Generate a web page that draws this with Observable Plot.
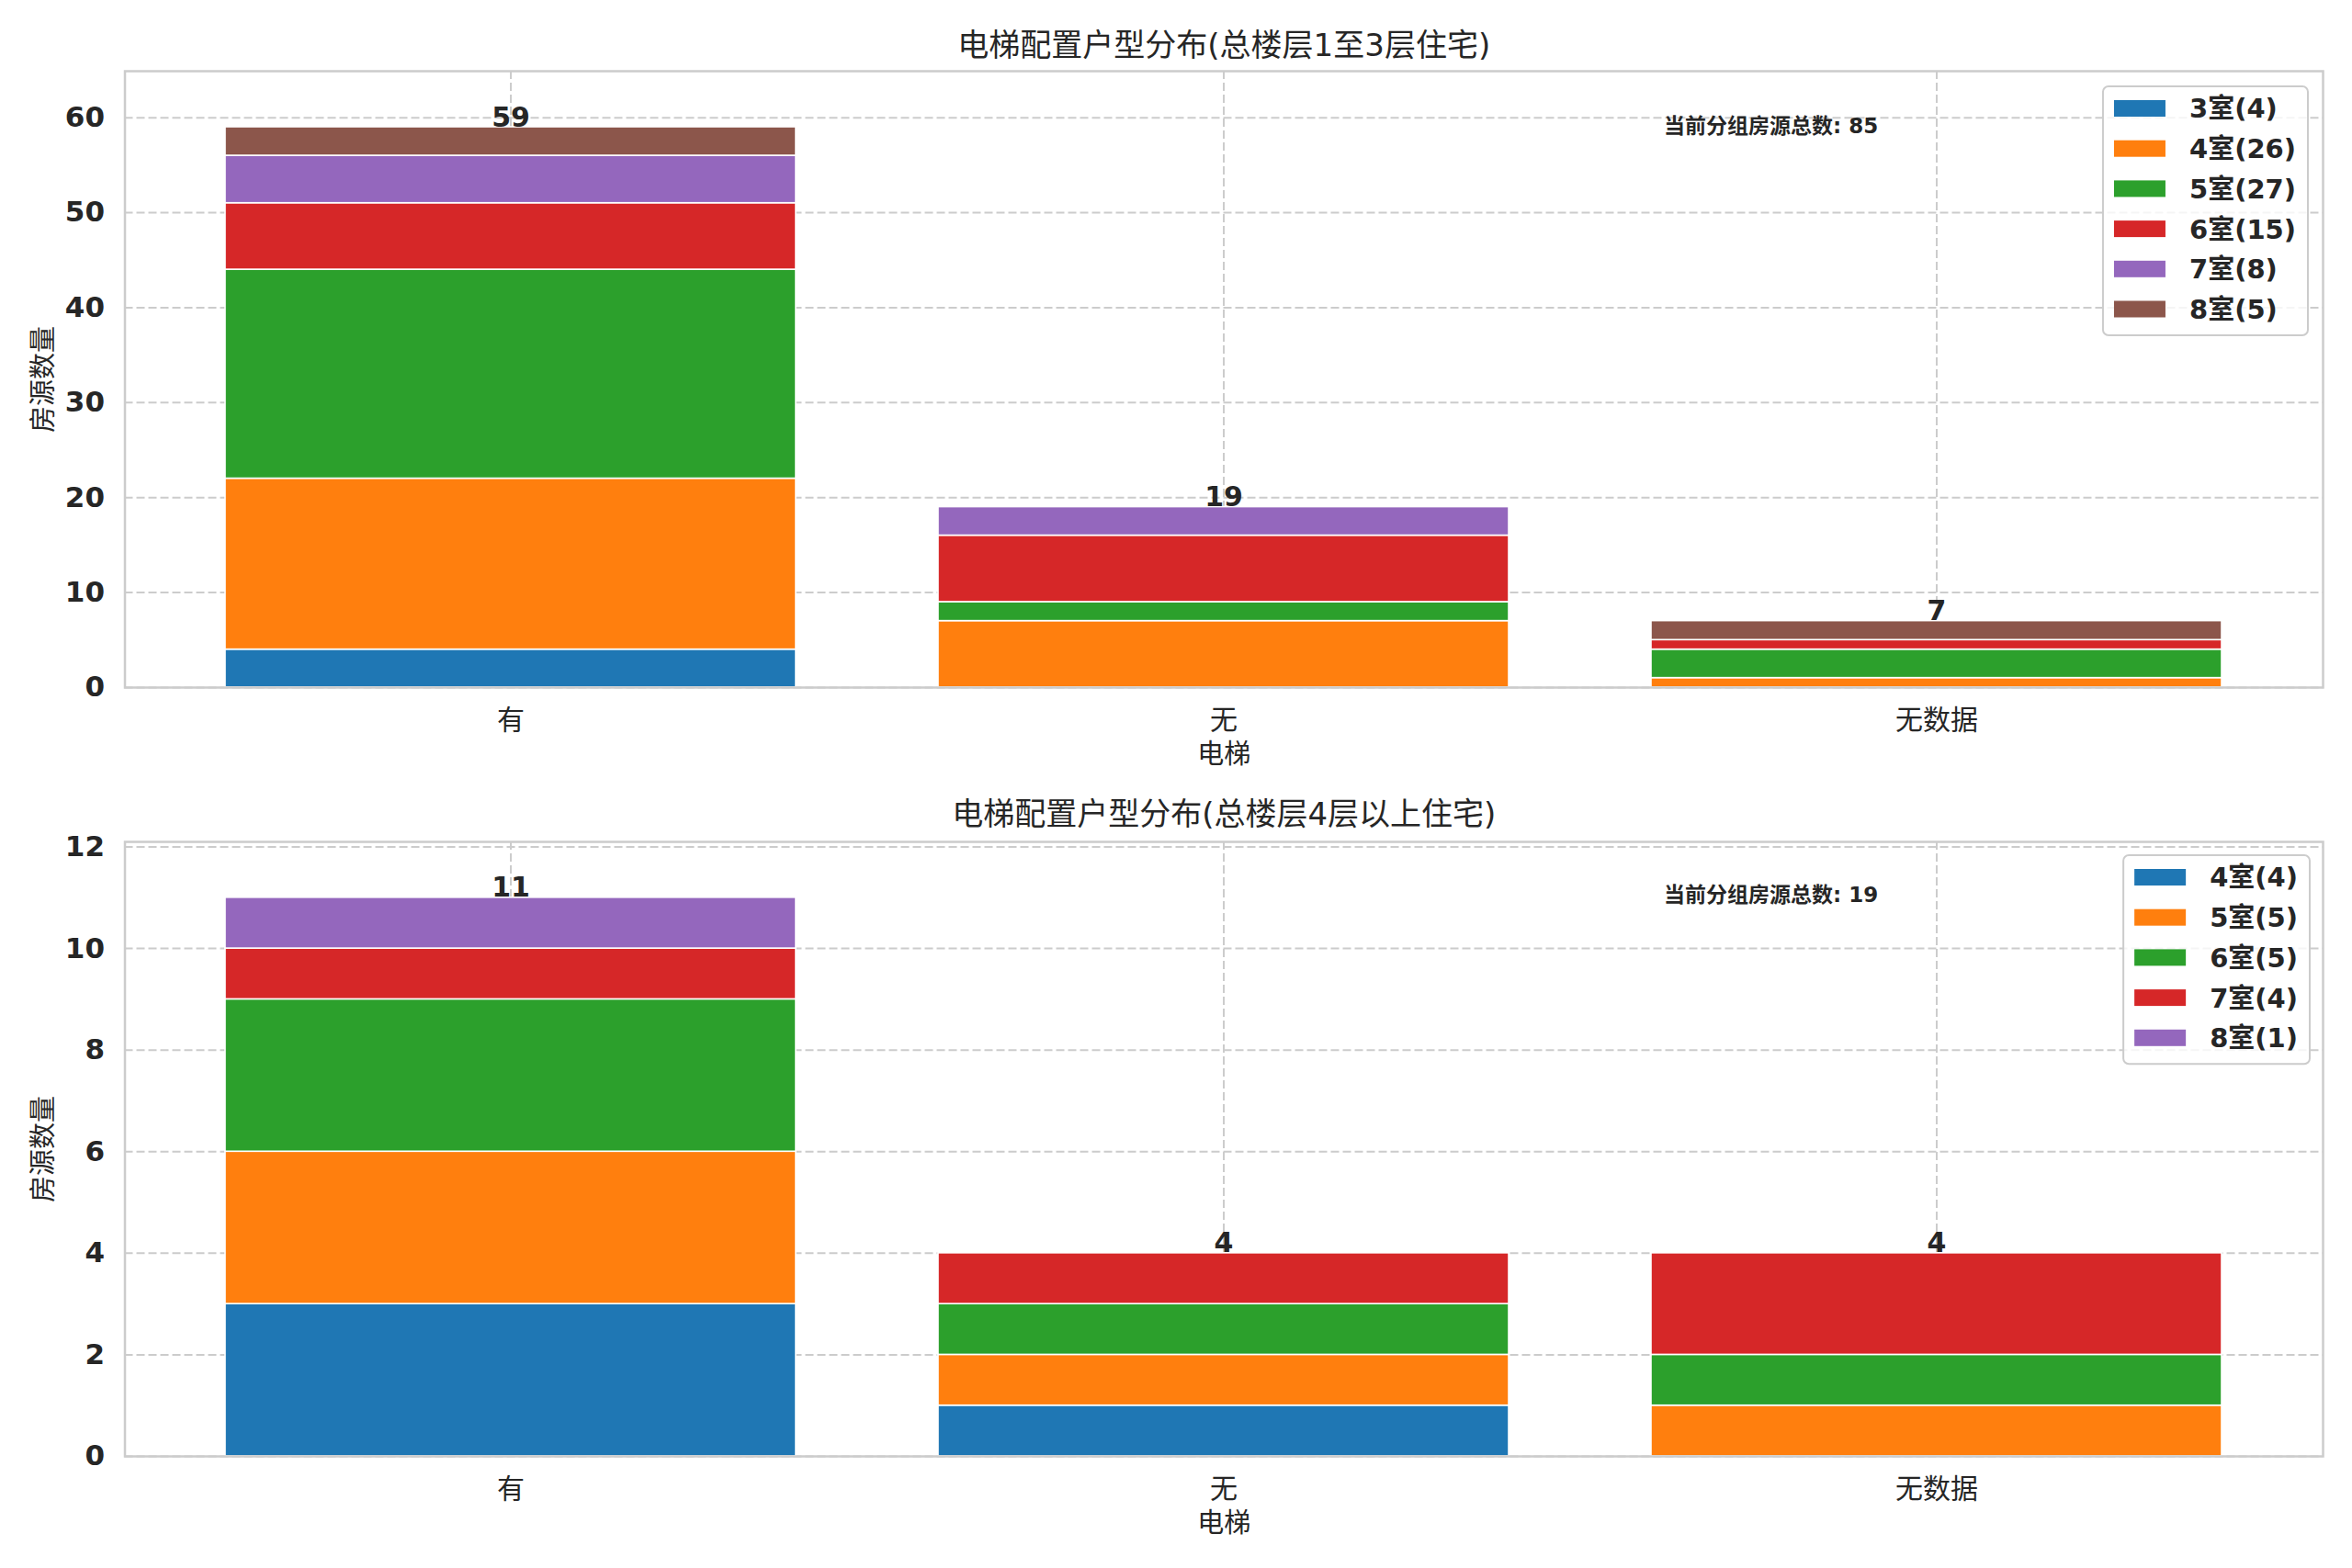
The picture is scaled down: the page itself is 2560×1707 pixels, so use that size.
<!DOCTYPE html>
<html>
<head>
<meta charset="utf-8">
<script src="https://cdn.jsdelivr.net/npm/d3@7"></script>
<script src="https://cdn.jsdelivr.net/npm/@observablehq/plot@0.6"></script>
<style>
html, body { margin: 0; padding: 0; background: #ffffff; }
#chart { width: 2560px; height: 1707px; overflow: hidden; }
#chart svg { display: block; }
</style>
</head>
<body>
<div id="chart"></div>
<script>
// ---- data ----
const categories = ["有", "无", "无数据"];
const lowRooms = ["3室", "4室", "5室", "6室", "7室", "8室"];
// counts per room type, aligned with categories
const lowCounts = [
  [4, 0, 0],
  [18, 7, 1],
  [22, 2, 3],
  [7, 7, 1],
  [5, 3, 0],
  [3, 0, 2]
];
const highRooms = ["4室", "5室", "6室", "7室", "8室"];
const highCounts = [
  [3, 1, 0],
  [3, 1, 1],
  [3, 1, 1],
  [1, 1, 2],
  [1, 0, 0]
];
const lowTicks = [0, 10, 20, 30, 40, 50, 60];
const highTicks = [0, 2, 4, 6, 8, 10, 12];
const titles = ["电梯配置户型分布(总楼层1至3层住宅)", "电梯配置户型分布(总楼层4层以上住宅)"];
const xLabel = "电梯";
const yLabel = "房源数量";
const notePrefix = "当前分组房源总数";
const palette = ["#1f77b4", "#ff7f0e", "#2ca02c", "#d62728", "#9467bd", "#8c564b"];

const FONT = "'DejaVu Sans', 'Noto Sans CJK SC', sans-serif";
const INK = "#262626";
const GRID = "#cccccc";

function legendMark(items, colors, cfg) {
  return (index, scales, values, dims) => {
    const fs = 29;
    const ctx = document.createElement("canvas").getContext("2d");
    ctx.font = `bold ${fs}px 'DejaVu Sans', 'Noto Sans CJK SC', sans-serif`;
    const tw = d3.max(items, d => ctx.measureText(d).width);
    const w = 12 + 56 + 26 + tw + 13;
    const step = 43.7;
    const h = 24 + (items.length - 1) * step + 28.5;
    const right = dims.width - dims.marginRight - cfg.right;
    const left = right - w;
    const top = dims.marginTop + cfg.top;
    const g = d3.create("svg:g");
    g.append("rect")
      .attr("x", left).attr("y", top).attr("width", w).attr("height", h)
      .attr("rx", 6).attr("fill", "#ffffff").attr("fill-opacity", 0.8)
      .attr("stroke", GRID).attr("stroke-width", 2);
    items.forEach((d, i) => {
      const cy = top + 24 + i * step;
      g.append("rect")
        .attr("x", left + 12).attr("y", cy - 9).attr("width", 56).attr("height", 18)
        .attr("fill", colors[i]);
      g.append("text")
        .attr("x", left + 94).attr("y", cy).attr("dy", "0.36em")
        .attr("text-anchor", "start")
        .attr("font-family", FONT).attr("font-weight", "bold").attr("font-size", fs)
        .attr("fill", INK).text(d);
    });
    return g.node();
  };
}

function makeChart(cfg) {
  const rows = [];
  cfg.rooms.forEach((room, r) => {
    categories.forEach((cat, c) => {
      const v = cfg.counts[r][c];
      if (v > 0) rows.push({category: cat, room, count: v});
    });
  });
  const totals = categories.map((cat, c) => ({
    category: cat,
    total: d3.sum(cfg.counts, row => row[c])
  }));
  const grand = d3.sum(totals, d => d.total);
  const colors = palette.slice(0, cfg.rooms.length);
  const legendItems = cfg.rooms.map((room, r) => `${room}(${d3.sum(cfg.counts[r])})`);

  return Plot.plot({
    width: 2560,
    height: cfg.height,
    marginTop: cfg.marginTop,
    marginBottom: cfg.marginBottom,
    marginLeft: 135.5,
    marginRight: 32,
    style: {fontFamily: FONT, color: INK, background: "#ffffff", overflow: "visible"},
    x: {domain: categories, paddingInner: 0.2, paddingOuter: 0.14, align: 0.5, label: null},
    y: {domain: [0, cfg.ymax], label: null},
    color: {domain: cfg.rooms, range: colors},
    marks: [
      Plot.gridY(cfg.ticks, {stroke: GRID, strokeOpacity: 1, strokeWidth: 2, strokeDasharray: "9,4"}),
      Plot.gridX(categories, {stroke: GRID, strokeOpacity: 1, strokeWidth: 2, strokeDasharray: "9,4"}),
      Plot.barY(rows, {x: "category", y: "count", fill: "room", stroke: "#ffffff", strokeWidth: 1.6, inset: 0}),
      Plot.text(totals, {x: "category", y: "total", text: d => String(d.total), lineAnchor: "bottom", dy: -1,
        fontSize: 30, fontWeight: "bold", fill: INK}),
      Plot.axisY(cfg.ticks, {tickSize: 0, tickPadding: 22, tickFormat: d => String(d), fontSize: 31,
        fontWeight: "bold", fill: INK, label: null}),
      Plot.axisX({tickSize: 0, tickPadding: 24, fontSize: 30, fill: INK, label: null}),
      Plot.text([cfg.title], {text: d => d, frameAnchor: "top", dy: cfg.titleDy, lineAnchor: "middle",
        textAnchor: "middle", fontSize: 34, fill: INK}),
      Plot.text([xLabel], {text: d => d, frameAnchor: "bottom", dy: 73, lineAnchor: "middle",
        textAnchor: "middle", fontSize: 29, fill: INK}),
      Plot.text([yLabel], {text: d => d, frameAnchor: "left", dx: -88.5, rotate: -90, lineAnchor: "middle",
        textAnchor: "middle", fontSize: 29, fill: INK}),
      Plot.text([`${notePrefix}: ${grand}`], {text: d => d, frameAnchor: "top-left", dx: 1675, dy: cfg.noteDy,
        lineAnchor: "middle", textAnchor: "start", fontSize: 23, fontWeight: "bold", fill: INK}),
      Plot.frame({stroke: GRID, strokeWidth: 2.5}),
      legendMark(legendItems, colors, {right: cfg.legendRight, top: cfg.legendTop})
    ]
  });
}

const chart = document.getElementById("chart");
chart.append(makeChart({
  rooms: lowRooms, counts: lowCounts, ticks: lowTicks, ymax: 64.9, title: titles[0],
  height: 853, marginTop: 77, marginBottom: 105, titleDy: -27, noteDy: 60,
  legendRight: 16, legendTop: 17
}));
chart.append(makeChart({
  rooms: highRooms, counts: highCounts, ticks: highTicks, ymax: 12.1, title: titles[1],
  height: 854, marginTop: 63, marginBottom: 122, titleDy: -29.5, noteDy: 58,
  legendRight: 14, legendTop: 15
}));
</script>
</body>
</html>
